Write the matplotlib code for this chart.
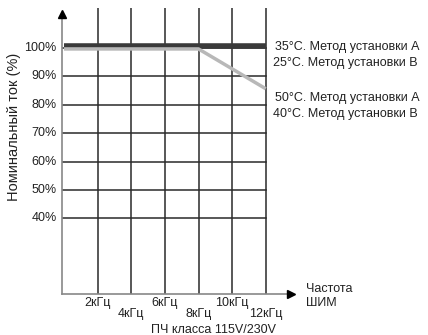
import matplotlib.pyplot as plt

plt.rcParams['font.family'] = ['Liberation Sans', 'DejaVu Sans']

freq_ticks = [2, 4, 6, 8, 10, 12]
freq_labels = ['2кГц', '4кГц', '6кГц', '8кГц', '10кГц', '12кГц']
pct_ticks = [40, 50, 60, 70, 80, 90, 100]
pct_labels = ['40%', '50%', '60%', '70%', '80%', '90%', '100%']

# curve A: 35C method A / 25C method B
dark_x = [0, 12]
dark_y = [100.5, 100.5]
# curve B: 50C method A / 40C method B
gray_x = [0, 8, 12]
gray_y = [99.6, 99.6, 85.6]

labels_top = ['35°C. Метод установки А', '25°C. Метод установки В']
labels_bot = ['50°C. Метод установки А', '40°C. Метод установки В']

x0, x1 = -0.12, 13.8
y0, y1 = 13.4, 114

fig = plt.figure(figsize=(4.28, 3.35), dpi=100)
ax = fig.add_axes([62 / 428, 41 / 335, 234 / 428, 286 / 335])
ax.set_xlim(x0, x1)
ax.set_ylim(y0, y1)
ax.axis('off')

grid_c = '#2a2a2a'
for f in freq_ticks:
    ax.plot([f, f], [y0, y1], color=grid_c, lw=1.1)
for p in pct_ticks:
    ax.plot([x0, 12], [p, p], color=grid_c, lw=1.1)

# axes with arrows
ax_c = '#888888'
ax.plot([x0, x0], [y0, 111.5], color=ax_c, lw=1.2, clip_on=False)
ax.plot([x0], [112], marker='^', color='black', ms=6, clip_on=False)
ax.plot([x0, 13.3], [y0, y0], color=ax_c, lw=1.2, clip_on=False)
ax.plot([13.5], [y0], marker='>', color='black', ms=6, clip_on=False)

ax.plot(dark_x, dark_y, color='#3a3a3a', lw=4, solid_capstyle='butt')
ax.plot(gray_x, gray_y, color='#b8b8b8', lw=2.5, solid_capstyle='butt')

fs = 9
tc = '#222222'
for p, lab in zip(pct_ticks, pct_labels):
    ax.text(-0.45, p, lab, ha='right', va='center', fontsize=fs, color=tc)
for i, (f, lab) in enumerate(zip(freq_ticks, freq_labels)):
    yy = 10.2 if i % 2 == 0 else 6.3
    ax.text(f, yy, lab, ha='center', va='center', fontsize=fs, color=tc, clip_on=False)

ax.text(14.4, 15.3, 'Частота', ha='left', va='center', fontsize=fs, color=tc)
ax.text(14.4, 10.2, 'ШИМ', ha='left', va='center', fontsize=fs, color=tc)
ax.text(8.9, 0.6, 'ПЧ класса 115V/230V', ha='center', va='center', fontsize=fs, color=tc)

ax.text(12.55, 100.2, labels_top[0], ha='left', va='center', fontsize=fs, color=tc)
ax.text(12.45, 94.6, labels_top[1], ha='left', va='center', fontsize=fs, color=tc)
ax.text(12.55, 82.4, labels_bot[0], ha='left', va='center', fontsize=fs, color=tc)
ax.text(12.45, 76.8, labels_bot[1], ha='left', va='center', fontsize=fs, color=tc)

fig.text(14 / 428, 1 - 127 / 335, 'Номинальный ток (%)', rotation=90, ha='center', va='center',
         fontsize=10.5, color=tc)

fig.savefig('out.png', dpi=100)
